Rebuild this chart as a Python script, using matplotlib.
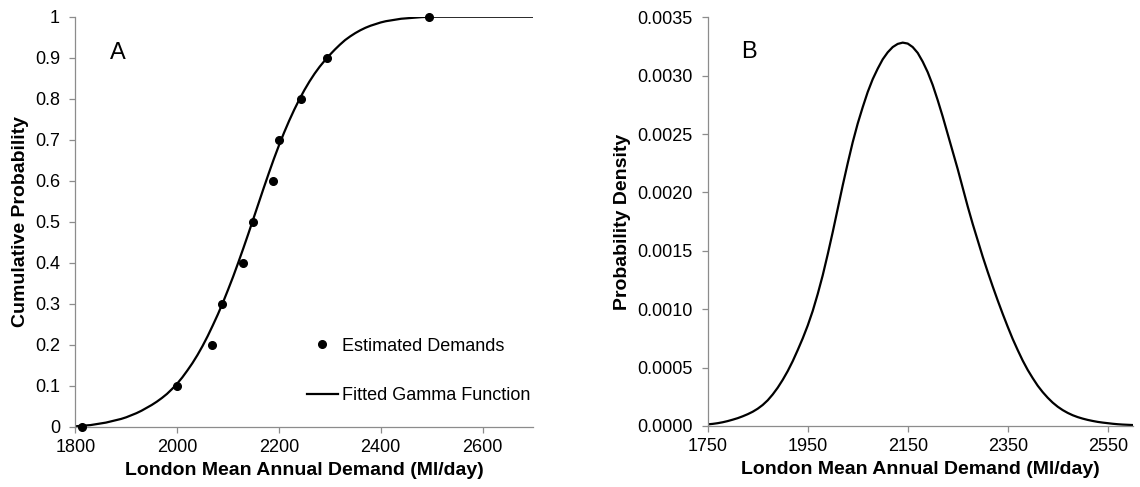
import numpy as np
import matplotlib
matplotlib.use("Agg")
import matplotlib.pyplot as plt

plt.rcParams['font.family'] = ['Liberation Sans', 'DejaVu Sans']

# estimated demands (Ml/day) and their cumulative probability
est_demand = [1814, 2000, 2069, 2089, 2129, 2149, 2188, 2201, 2244, 2295, 2495]
est_prob = [0.0, 0.1, 0.2, 0.3, 0.4, 0.5, 0.6, 0.7, 0.8, 0.9, 1.0]

# fitted gamma CDF, tabulated every 10 Ml/day
cdf_x = list(range(1800, 2510, 10)) + [2550, 2600, 2650, 2700]
cdf_y = [0.001, 0.002, 0.003, 0.004, 0.006, 0.008, 0.010, 0.013, 0.016, 0.019,
         0.023, 0.028, 0.033, 0.039, 0.046, 0.053, 0.061, 0.070, 0.080, 0.092,
         0.105, 0.120, 0.137, 0.155, 0.175, 0.197, 0.221, 0.247, 0.274, 0.303,
         0.334, 0.366, 0.400, 0.435, 0.471, 0.508, 0.545, 0.582, 0.618, 0.653,
         0.686, 0.717, 0.746, 0.773, 0.798, 0.821, 0.842, 0.861, 0.878, 0.893,
         0.907, 0.920, 0.932, 0.943, 0.952, 0.960, 0.967, 0.973, 0.978, 0.982,
         0.986, 0.989, 0.991, 0.993, 0.995, 0.996, 0.997, 0.998, 0.999, 0.9995,
         1.000, 1.000, 1.000, 1.000, 1.000]

# fitted gamma PDF, tabulated every 10 Ml/day (x 1e-3)
pdf_x = list(range(1750, 2610, 10))
pdf_y_milli = [0.014, 0.018, 0.024, 0.032, 0.042, 0.054, 0.067, 0.083, 0.101, 0.122,
               0.148, 0.180, 0.220, 0.270, 0.328, 0.395, 0.470, 0.555, 0.650, 0.750,
               0.860, 0.985, 1.130, 1.290, 1.470, 1.660, 1.860, 2.060, 2.250, 2.430,
               2.590, 2.730, 2.860, 2.970, 3.060, 3.140, 3.200, 3.245, 3.272, 3.283,
               3.275, 3.245, 3.195, 3.120, 3.030, 2.920, 2.790, 2.650, 2.500, 2.350,
               2.200, 2.040, 1.880, 1.730, 1.590, 1.450, 1.320, 1.195, 1.075, 0.960,
               0.850, 0.745, 0.650, 0.560, 0.480, 0.410, 0.345, 0.290, 0.242, 0.200,
               0.165, 0.136, 0.112, 0.092, 0.076, 0.063, 0.052, 0.043, 0.035, 0.029,
               0.024, 0.019, 0.015, 0.012, 0.010, 0.008]
pdf_y = np.array(pdf_y_milli) * 1e-3

cdf_yticks = [0, 0.1, 0.2, 0.3, 0.4, 0.5, 0.6, 0.7, 0.8, 0.9, 1.0]
cdf_ylabels = ['0', '0.1', '0.2', '0.3', '0.4', '0.5', '0.6', '0.7', '0.8', '0.9', '1']
cdf_xticks = [1800, 2000, 2200, 2400, 2600]
pdf_yticks = [0, 0.0005, 0.001, 0.0015, 0.002, 0.0025, 0.003, 0.0035]
pdf_xticks = [1750, 1950, 2150, 2350, 2550]

tick_fs = 13
label_fs = 14
spine_col = '#8c8c8c'

fig = plt.figure(figsize=(11.4, 4.87), dpi=100)
ax1 = fig.add_axes([0.0661, 0.1238, 0.4018, 0.8419])
ax2 = fig.add_axes([0.6208, 0.1253, 0.3728, 0.8392])


def style_axes(ax):
    for side in ['top', 'right']:
        ax.spines[side].set_visible(False)
    for side in ['left', 'bottom']:
        ax.spines[side].set_color(spine_col)
        ax.spines[side].set_linewidth(0.9)
    ax.tick_params(direction='out', length=4, width=0.9, color=spine_col,
                   labelsize=tick_fs, labelcolor='black')
    ax.tick_params(axis='x', pad=5)
    ax.tick_params(axis='y', pad=7)


# A: cumulative probability
ax1.plot(cdf_x, cdf_y, color='black', lw=1.6, label='Fitted Gamma Function', zorder=2)
ax1.plot(est_demand, est_prob, 'o', color='black', ms=5.5, ls='none',
         label='Estimated Demands', zorder=3, clip_on=False)
ax1.set_xlim(1800, 2700)
ax1.set_ylim(0, 1)
ax1.set_xticks(cdf_xticks)
ax1.set_yticks(cdf_yticks)
ax1.set_yticklabels(cdf_ylabels)
style_axes(ax1)
ax1.set_xlabel('London Mean Annual Demand (Ml/day)', fontsize=label_fs, fontweight='bold', labelpad=4)
ax1.set_ylabel('Cumulative Probability', fontsize=label_fs, fontweight='bold', labelpad=4)
ax1.text(0.093, 0.912, 'A', transform=ax1.transAxes, fontsize=17, ha='center', va='center')

h, l = ax1.get_legend_handles_labels()
ax1.legend(h[::-1], l[::-1], loc='upper left', bbox_to_anchor=(0.505, 0.217),
           frameon=False, fontsize=tick_fs, handlelength=1.75, handletextpad=0.2,
           labelspacing=1.8, borderpad=0, borderaxespad=0)

# B: probability density
ax2.plot(pdf_x, pdf_y, color='black', lw=1.6)
ax2.set_xlim(1750, 2600)
ax2.set_ylim(0, 0.0035)
ax2.set_xticks(pdf_xticks)
ax2.set_yticks(pdf_yticks)
ax2.yaxis.set_major_formatter(matplotlib.ticker.FormatStrFormatter('%.4f'))
style_axes(ax2)
ax2.set_xlabel('London Mean Annual Demand (Ml/day)', fontsize=label_fs, fontweight='bold', labelpad=4)
ax2.set_ylabel('Probability Density', fontsize=label_fs, fontweight='bold', labelpad=4)
ax2.text(0.0967, 0.915, 'B', transform=ax2.transAxes, fontsize=17, ha='center', va='center')

fig.savefig('out.png', dpi=100)
